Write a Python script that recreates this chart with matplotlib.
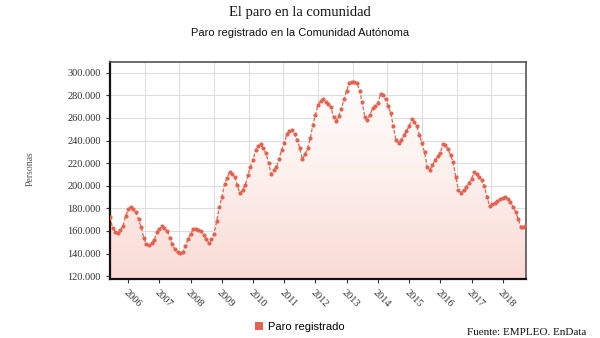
import numpy as np
import pandas as pd
import matplotlib
matplotlib.use("Agg")
import matplotlib.pyplot as plt
import matplotlib.dates as mdates
from matplotlib.lines import Line2D
from matplotlib.ticker import FuncFormatter, FixedLocator

# Paro registrado mensual (miles de personas), jun 2005 - oct 2018
paro_miles = [
    172.6, 162.8, 159.5, 157.9, 161.0, 164.6, 173.2, 179.1, 181.5, 179.0,
    176.5, 170.5, 163.7, 154.0, 148.4, 147.5, 149.5, 152.0, 158.8, 161.5,
    164.1, 162.5, 160.2, 154.0, 148.4, 143.7, 141.5, 140.5, 141.1, 146.9,
    152.8, 157.5, 161.4, 161.5, 161.0, 160.2, 156.5, 152.8, 149.6, 152.5,
    157.3, 168.8, 181.2, 190.3, 201.5, 206.8, 211.9, 210.5, 207.7, 200.4,
    193.3, 196.5, 200.4, 209.2, 216.8, 223.0, 231.9, 235.0, 236.6, 233.0,
    228.7, 220.1, 210.4, 213.5, 216.8, 223.9, 231.9, 237.5, 246.0, 248.5,
    249.6, 245.5, 240.4, 233.6, 223.4, 228.0, 233.1, 242.2, 253.7, 263.0,
    271.7, 275.0, 277.0, 274.5, 272.0, 269.6, 260.5, 257.5, 262.0, 268.1,
    277.0, 284.0, 291.2, 292.0, 291.5, 290.9, 284.1, 273.8, 261.2, 258.1,
    263.0, 268.6, 270.5, 273.0, 281.4, 280.0, 276.7, 270.5, 264.0, 252.7,
    240.5, 238.2, 240.5, 244.5, 248.5, 252.5, 259.3, 256.5, 252.7, 245.2,
    237.4, 229.6, 216.8, 214.2, 218.0, 222.6, 226.0, 229.2, 236.8, 236.0,
    232.2, 227.0, 220.8, 207.6, 195.9, 193.8, 196.0, 199.3, 202.5, 206.3,
    212.2, 210.0, 207.5, 205.0, 200.0, 190.0, 182.3, 183.5, 185.0, 186.2,
    188.0, 189.5, 190.1, 188.0, 185.5, 181.5, 177.0, 170.4, 163.7, 163.5,
    165.2,
]
fecha_inicio = "2005-06-01"
y_ticks = list(range(120000, 300001, 20000))

paro = np.array(paro_miles) * 1000
fechas = pd.date_range(fecha_inicio, periods=len(paro), freq="MS")

serif = "Liberation Serif"
sans = "Liberation Sans"
color_linea = "#e2634f"

fig = plt.figure(figsize=(6, 3.38), dpi=100)
ax = fig.add_axes([0.1833, 0.1746, 0.6934, 0.642])

ax.set_xlim(fechas[0], fechas[-1])
ax.set_ylim(117500, 309500)

# relleno degradado bajo la curva
x0, x1 = ax.get_xlim()
y0, y1 = ax.get_ylim()
grad = np.linspace(0, 1, 256).reshape(-1, 1)
cmap = matplotlib.colors.LinearSegmentedColormap.from_list(
    "rosa", ["#f9dad4", "#fdf1ee", "#ffffff"])
area = ax.fill_between(fechas, paro, y0, color="none", lw=0)
img = ax.imshow(grad, cmap=cmap, origin="lower", aspect="auto",
                extent=[x0, x1, y0, y1], zorder=1)
img.set_clip_path(area.get_paths()[0], transform=ax.transData)
ax.set_xlim(x0, x1)
ax.set_ylim(y0, y1)

ax.plot(fechas, paro, color=color_linea, lw=0.9, ls=(0, (3, 1.5)),
        marker="o", markersize=3.0, markeredgewidth=0, zorder=3)

# rejilla
ax.set_yticks(y_ticks)
ax.yaxis.set_major_formatter(FuncFormatter(lambda v, p: f"{int(v):,}".replace(",", ".")))
ax.xaxis.set_major_locator(mdates.YearLocator())
ax.xaxis.set_major_formatter(mdates.DateFormatter("%Y"))
ax.xaxis.set_minor_locator(FixedLocator(np.linspace(x0, x1, 13)[1:-1]))
ax.grid(axis="y", color="#dddddd", lw=0.8, zorder=0)
ax.grid(axis="x", which="minor", color="#dddddd", lw=0.8, zorder=0)
ax.set_axisbelow(True)
ax.tick_params(axis="x", which="minor", length=0)
ax.tick_params(axis="both", which="major", length=3, width=0.8,
               color="#333333", labelcolor="#333333", labelsize=7.5)

for lab in ax.get_yticklabels():
    lab.set_fontfamily(serif)
for lab in ax.get_xticklabels():
    lab.set_fontfamily(serif)
    lab.set_rotation(-45)
    lab.set_ha("left")
    lab.set_va("top")
    lab.set_rotation_mode("anchor")

for lado in ["left", "bottom"]:
    ax.spines[lado].set_color("#111111")
    ax.spines[lado].set_linewidth(1.6)
for lado in ["top", "right"]:
    ax.spines[lado].set_color("#555555")
    ax.spines[lado].set_linewidth(1.2)

fig.text(0.05, 0.5, "Personas", rotation=90, ha="center", va="center",
         family=serif, fontsize=7, color="#555555")
fig.text(0.5, 0.962, "El paro en la comunidad", ha="center", va="center",
         family=serif, fontsize=10.5, color="#111111")
fig.text(0.5, 0.902, "Paro registrado en la Comunidad Autónoma", ha="center",
         va="center", family=sans, fontsize=8, color="#111111")

handle = Line2D([], [], ls="none", marker="s", markersize=6,
                color=color_linea, markeredgewidth=0)
fig.legend([handle], ["Paro registrado"], loc="center", bbox_to_anchor=(0.5, 0.032),
           frameon=False, prop={"family": sans, "size": 8}, handlelength=0.8,
           handletextpad=0.4)

fig.text(0.778, 0.002, "Fuente: EMPLEO. EnData", ha="left", va="bottom",
         family=serif, fontsize=8, color="#111111")

fig.savefig("out.png", dpi=100)
